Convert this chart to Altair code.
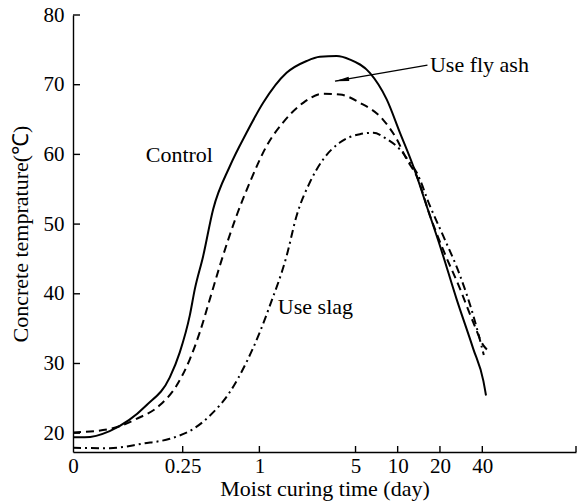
import altair as alt
import pandas as pd

# ---- data ----
ctrl_x = [0, 0.0105, 0.041, 0.116, 0.193, 0.236, 0.287, 0.316, 0.369, 0.443, 0.598, 0.801,
          1.067, 1.587, 2.221, 2.77, 3.66, 4.56, 6.33, 8.35, 10.39, 12.92, 16.09, 20.0,
          26.3, 34.5, 40.7, 42.5]
ctrl_y = [19.4, 19.4, 20.3, 24.0, 28.0, 31.6, 36.9, 40.7, 45.4, 52.1, 58.3, 63.1,
          67.4, 71.7, 73.4, 74.0, 74.1, 73.6, 71.7, 67.9, 63.1, 58.3, 52.6, 46.9,
          39.2, 32.1, 27.5, 25.4]

fly_x = [0, 0.041, 0.091, 0.156, 0.221, 0.287, 0.347, 0.417, 0.500, 0.673, 0.849, 1.131,
         1.499, 2.097, 2.93, 3.86, 5.37, 7.85, 9.84, 11.59, 13.66, 16.98, 21.0, 27.8,
         34.5, 40.7, 43.2]
fly_y = [20.1, 20.6, 22.05, 24.0, 26.8, 30.6, 34.5, 39.2, 44.0, 51.2, 56.0, 61.2,
         64.6, 67.4, 68.7, 68.6, 67.4, 65.0, 62.2, 59.3, 56.9, 51.2, 46.4, 40.7,
         35.9, 32.6, 32.0]

slag_x = [0, 0.041, 0.106, 0.193, 0.306, 0.417, 0.598, 0.801, 1.008, 1.196, 1.587, 1.879,
          2.347, 2.93, 3.86, 5.37, 6.69, 8.35, 10.39, 12.24, 13.66, 16.98, 21.1, 27.8,
          34.5, 41.0]
slag_y = [17.9, 17.85, 18.5, 19.2, 20.6, 22.5, 25.9, 30.2, 34.5, 38.3, 45.4, 51.2,
          56.0, 59.3, 61.7, 62.9, 63.1, 62.2, 60.7, 58.8, 57.4, 52.6, 48.3, 42.6,
          36.9, 31.2]

x_tick_values = [0, 0.25, 1, 5, 10, 20, 40]
x_tick_marks = [0.25, 1, 5, 10, 20, 40, 185]
y_tick_values = [20, 30, 40, 50, 60, 70, 80]

labels = ["Control", "Use slag", "Use fly ash"]
label_x = [0.114, 1.37, 16.98]
label_y = [58.9, 37.1, 71.8]

arrow_x, arrow_y = [16.3], [72.8]
arrow_x2, arrow_y2 = [3.56], [70.5]

FONT = "Liberation Serif"
W, H = 503, 437

xs = alt.Scale(type="symlog", constant=0.05, domain=[0, 185], nice=False)
ys = alt.Scale(domain=[17.3, 80], nice=False, zero=False)

x_axis = alt.Axis(values=x_tick_values, format="~g", tickSize=0, labelFont=FONT,
                  labelFontSize=21, labelColor="black", labelPadding=3,
                  labelFlush=False, labelOverlap=False, domainColor="black",
                  domainWidth=1.4, grid=False, title="Moist curing time (day)",
                  titleFont=FONT, titleFontSize=22, titleFontWeight="normal",
                  titleColor="black", titlePadding=2)
y_axis = alt.Axis(values=y_tick_values, tickSize=0, labelFont=FONT, labelFontSize=21,
                  labelColor="black", labelPadding=9, labelFlush=False,
                  labelOverlap=False, domainColor="black", domainWidth=1.4, grid=False,
                  title="Concrete temprature(℃)", titleFont=FONT, titleFontSize=22,
                  titleFontWeight="normal", titleColor="black", titlePadding=11)

X = lambda f="t": alt.X(f"{f}:Q", scale=xs, axis=x_axis)
Y = lambda f="v": alt.Y(f"{f}:Q", scale=ys, axis=y_axis)


def curve(xv, yv, dash):
    df = pd.DataFrame({"t": xv, "v": yv, "o": list(range(len(xv)))})
    kw = dict(color="black", strokeWidth=2, interpolate="monotone")
    if dash:
        kw["strokeDash"] = dash
    return alt.Chart(df).mark_line(**kw).encode(x=X(), y=Y(), order="o:Q")


ctrl = curve(ctrl_x, ctrl_y, None)
fly = curve(fly_x, fly_y, [8, 5])
slag = curve(slag_x, slag_y, [8, 4, 2, 4])

xt = alt.Chart(pd.DataFrame({"t": x_tick_marks})).mark_rule(
    color="black", strokeWidth=1.4).encode(x=X(), y=alt.value(H), y2=alt.value(H - 6))
yt = alt.Chart(pd.DataFrame({"v": y_tick_values})).mark_rule(
    color="black", strokeWidth=1.4).encode(y=Y(), x=alt.value(0), x2=alt.value(7))

txt = alt.Chart(pd.DataFrame({"t": label_x, "v": label_y, "s": labels})).mark_text(
    font=FONT, fontSize=22, align="left", baseline="alphabetic", color="black"
).encode(x=X(), y=Y(), text="s:N")

arr_df = pd.DataFrame({"t": arrow_x, "v": arrow_y, "t2": arrow_x2, "v2": arrow_y2})
arr_line = alt.Chart(arr_df).mark_rule(color="black", strokeWidth=1.3).encode(
    x=X(), y=Y(), x2="t2:Q", y2="v2:Q")
arr_head = alt.Chart(arr_df).mark_point(
    shape="M0,0L0.3,2L-0.3,2Z", filled=True, color="black", opacity=1,
    size=200, angle=260.5).encode(x=X("t2"), y=Y("v2"))

chart = alt.layer(ctrl, fly, slag, xt, yt, txt, arr_line, arr_head).properties(
    width=W, height=H,
    autosize=alt.AutoSizeParams(type="none"),
    padding={"left": 73, "top": 15, "right": 2, "bottom": 52},
    background="white",
).configure_view(stroke=None)

chart.save("out.html", embed_options={"renderer": "svg", "actions": False})
